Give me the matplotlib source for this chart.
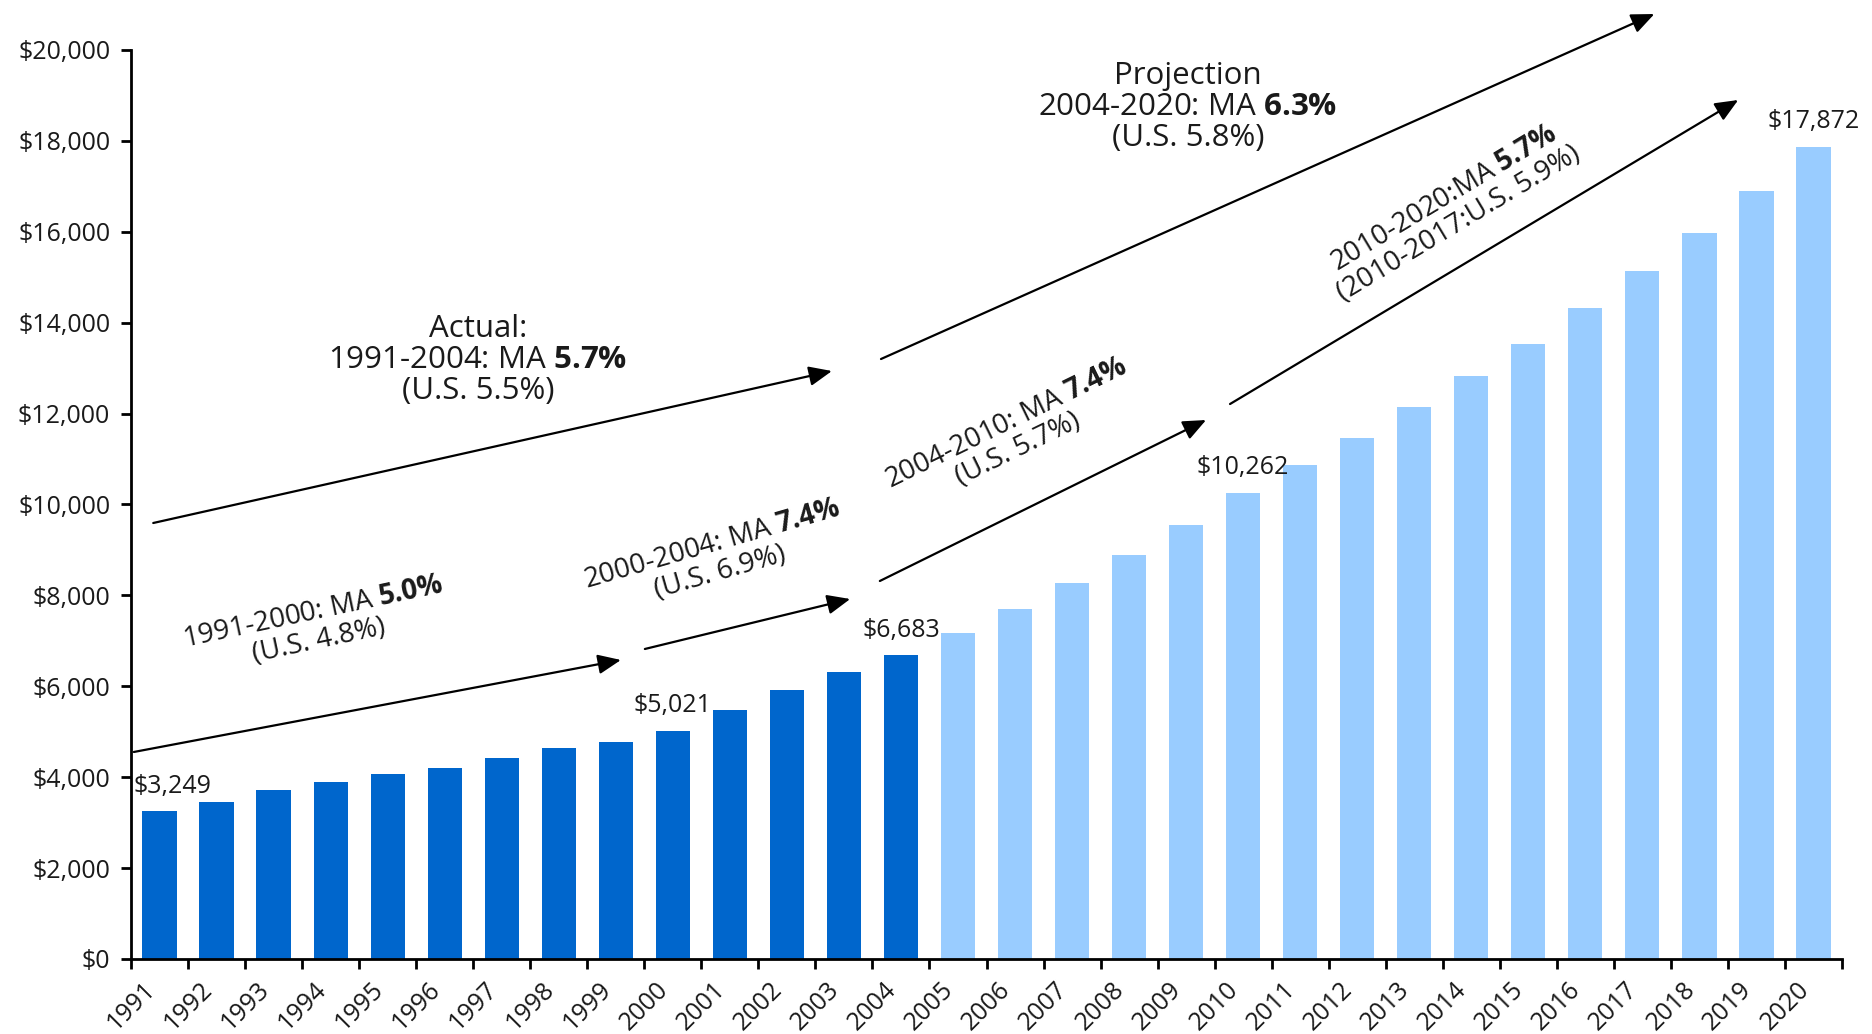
import numpy as np
import matplotlib
matplotlib.use('Agg')
import matplotlib.pyplot as plt

# --- dados ---
anos = list(range(1991, 2021))
valores = [3249, 3450, 3720, 3900, 4080, 4210, 4430, 4650, 4780, 5021,
           5480, 5910, 6320, 6683, 7180, 7700, 8280, 8890, 9550, 10262,
           10880, 11470, 12140, 12820, 13530, 14320, 15140, 15970, 16900, 17872]
ultimo_real = 2004
anos_rotulados = [1991, 2000, 2004, 2010, 2020]

# setas de tendência: (ano_inicio, valor_inicio, ano_fim, valor_fim)
setas = [
    (1990.55, 4555, 1999.09, 6579),
    (1999.51, 6821, 2003.11, 7921),
    (2003.63, 8317, 2009.35, 11859),
    (2009.77, 12211, 2018.68, 18900),
    (1990.89, 9593, 2002.79, 12937),
    (2003.65, 13201, 2017.21, 20792),
]

# textos das taxas: (x, y, angulo, texto, tamanho)
textos = [
    (1996.58, 13180, 0, 'Actual:\n1991-2004: MA $\\mathbf{5.7\\%}$\n(U.S. 5.5%)', 22.5),
    (2009.03, 18745, 0, 'Projection\n2004-2020: MA $\\mathbf{6.3\\%}$\n(U.S. 5.8%)', 22.5),
    (1993.74, 7300, 12, '1991-2000: MA $\\mathbf{5.0\\%}$\n(U.S. 4.8%)', 20),
    (2000.76, 8800, 16, '2000-2004: MA $\\mathbf{7.4\\%}$\n(U.S. 6.9%)', 20),
    (2005.95, 11500, 26, '2004-2010: MA $\\mathbf{7.4\\%}$\n(U.S. 5.7%)', 20),
    (2013.65, 16450, 31, '2010-2020:MA $\\mathbf{5.7\\%}$\n(2010-2017:U.S. 5.9%)', 20),
]

plt.rcParams['font.family'] = ['Open Sans', 'DejaVu Sans']
plt.rcParams['mathtext.fontset'] = 'custom'
plt.rcParams['mathtext.rm'] = 'Open Sans'
plt.rcParams['mathtext.bf'] = 'Open Sans:bold'

fig = plt.figure(figsize=(18.72, 10.34), dpi=100)
ax = fig.add_axes([131 / 1872, 1 - 959 / 1034, (1842 - 131) / 1872, (959 - 50) / 1034])

cores = ['#0066CC' if a <= ultimo_real else '#99CCFF' for a in anos]
ax.bar(anos, valores, width=0.6, color=cores, zorder=2)

ax.set_xlim(1990.5, 2020.5)
ax.set_ylim(0, 20000)

ax.set_yticks(np.arange(0, 20001, 2000))
ax.set_yticklabels([f'${v:,.0f}' for v in np.arange(0, 20001, 2000)], fontsize=18, color='#1a1a1a')

limites = np.arange(1990.5, 2021.0, 1.0)
ax.set_xticks(limites)
ax.set_xticklabels([str(a) for a in anos] + [''], rotation=45, ha='center', fontsize=18, color='#1a1a1a')

ax.tick_params(axis='both', direction='out', length=7, width=2, colors='black', labelcolor='#1a1a1a')
ax.tick_params(axis='y', pad=8)
ax.tick_params(axis='x', pad=6)
for lado in ['top', 'right']:
    ax.spines[lado].set_visible(False)
for lado in ['left', 'bottom']:
    ax.spines[lado].set_linewidth(2)

# rótulos de valor
for a, v in zip(anos, valores):
    if a in anos_rotulados:
        dx = 9 if a == 1991 else 0
        ax.annotate(f'${v:,}', xy=(a, v), xytext=(dx, 9), textcoords='offset points',
                    ha='center', va='bottom', fontsize=18, color='#1a1a1a')

# setas
for x0, y0, x1, y1 in setas:
    ax.annotate('', xy=(x1, y1), xytext=(x0, y0),
                arrowprops=dict(arrowstyle='-|>,head_length=0.7,head_width=0.3', color='black',
                                lw=1.6, mutation_scale=20, shrinkA=0, shrinkB=0),
                annotation_clip=False)

for x, y, ang, t, tam in textos:
    ax.text(x, y, t, rotation=ang, rotation_mode='anchor', ha='center', va='center',
            multialignment='center', fontsize=tam, color='#1a1a1a', linespacing=1.05)

fig.savefig('out.png', dpi=100)
